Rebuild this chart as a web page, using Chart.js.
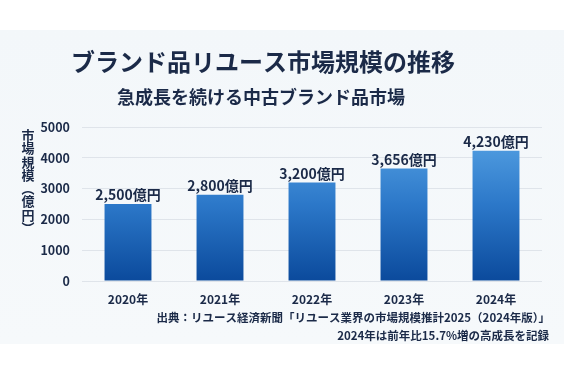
<!DOCTYPE html>
<html lang="ja">
<head>
<meta charset="utf-8">
<script src="https://cdn.jsdelivr.net/npm/chart.js@4/dist/chart.umd.min.js"></script>
<style>
  html, body { margin: 0; padding: 0; background: #ffffff; }
  #wrap { width: 564px; height: 376px; position: relative; }
</style>
</head>
<body>
<div id="wrap"><canvas id="marketChart" width="564" height="376"></canvas></div>
<script>
// データ
const years = ['2020年', '2021年', '2022年', '2023年', '2024年'];
const marketSize = [2500, 2800, 3200, 3656, 4230];
const valueLabels = ['2,500億円', '2,800億円', '3,200億円', '3,656億円', '4,230億円'];
const yTicks = [0, 1000, 2000, 3000, 4000, 5000];

const titleText = 'ブランド品リユース市場規模の推移';
const subtitleText = '急成長を続ける中古ブランド品市場';
const yTitleChars = ['市', '場', '規', '模', '︵', '億', '円', '︶'];
const sourceText = '出典：リユース経済新聞「リユース業界の市場規模推計2025（2024年版）」';
const noteText = '2024年は前年比15.7%増の高成長を記録';

const FONT = '"Noto Sans CJK JP", "Noto Sans", sans-serif';
const NAVY = '#1b2a48';

// 背景パネルと見出し
const backdrop = {
  id: 'backdrop',
  beforeDraw(chart) {
    const ctx = chart.ctx;
    ctx.save();
    ctx.fillStyle = '#ffffff';
    ctx.fillRect(0, 0, chart.width, chart.height);
    const g = ctx.createLinearGradient(0, 30, 0, 344);
    g.addColorStop(0, '#f3f7fa');
    g.addColorStop(1, '#f6f9fb');
    ctx.fillStyle = g;
    ctx.fillRect(0, 30, chart.width, 314);
    ctx.restore();
  },
  afterDraw(chart) {
    const ctx = chart.ctx;
    ctx.save();
    ctx.fillStyle = NAVY;
    ctx.textAlign = 'center';
    ctx.textBaseline = 'middle';
    ctx.font = 'bold 24px ' + FONT;
    ctx.fillText(titleText, 263, 62);
    ctx.font = 'bold 18px ' + FONT;
    ctx.fillText(subtitleText, 261, 97);

    // 縦書きの軸タイトル
    ctx.font = 'bold 13px ' + FONT;
    let y = 135;
    yTitleChars.forEach(ch => {
      ctx.fillText(ch, 28, y);
      y += 13.3;
    });

    // 出典・注記
    ctx.textAlign = 'right';
    ctx.font = 'bold 11.5px ' + FONT;
    ctx.fillText(sourceText, 550, 318);
    ctx.font = 'bold 11.5px ' + FONT;
    ctx.fillText(noteText, 549, 336);
    ctx.restore();
  }
};

// 棒の上の数値ラベル
const barLabels = {
  id: 'barLabels',
  afterDatasetsDraw(chart) {
    const ctx = chart.ctx;
    const meta = chart.getDatasetMeta(0);
    ctx.save();
    ctx.fillStyle = NAVY;
    ctx.font = 'bold 14px ' + FONT;
    ctx.textAlign = 'center';
    ctx.textBaseline = 'middle';
    meta.data.forEach((bar, i) => {
      ctx.fillText(valueLabels[i], bar.x, bar.y - 9);
    });
    ctx.restore();
  }
};

function barGradient(context) {
  const chart = context.chart;
  const area = chart.chartArea;
  if (!area) return '#2f7fd0';
  const g = chart.ctx.createLinearGradient(0, area.top, 0, area.bottom);
  g.addColorStop(0, '#5aa6e6');
  g.addColorStop(0.5, '#2c78c9');
  g.addColorStop(1, '#0b4a9c');
  return g;
}

const ctx = document.getElementById('marketChart').getContext('2d');
new Chart(ctx, {
  type: 'bar',
  data: {
    labels: years,
    datasets: [{
      data: marketSize,
      backgroundColor: barGradient,
      borderWidth: 0,
      categoryPercentage: 1,
      barPercentage: 0.51
    }]
  },
  options: {
    responsive: false,
    animation: false,
    layout: { padding: { top: 127, right: 22, bottom: 65, left: 0 } },
    plugins: {
      legend: { display: false },
      title: { display: false },
      tooltip: { enabled: false }
    },
    scales: {
      x: {
        grid: { display: false },
        border: { display: false },
        ticks: {
          color: NAVY,
          font: { family: FONT, size: 12, weight: 'bold' },
          padding: 3
        },
        afterFit(scale) { scale.height = 30; }
      },
      y: {
        min: 0,
        max: 5000,
        afterBuildTicks(scale) { scale.ticks = yTicks.map(v => ({ value: v })); },
        grid: { color: '#dfe4ea', lineWidth: 1, drawTicks: false },
        border: { display: false },
        ticks: {
          color: NAVY,
          font: { family: FONT, size: 12.5, weight: 'bold' },
          padding: 12,
          callback: v => String(v)
        },
        afterFit(scale) { scale.width = 82; }
      }
    }
  },
  plugins: [backdrop, barLabels]
});
</script>
</body>
</html>
